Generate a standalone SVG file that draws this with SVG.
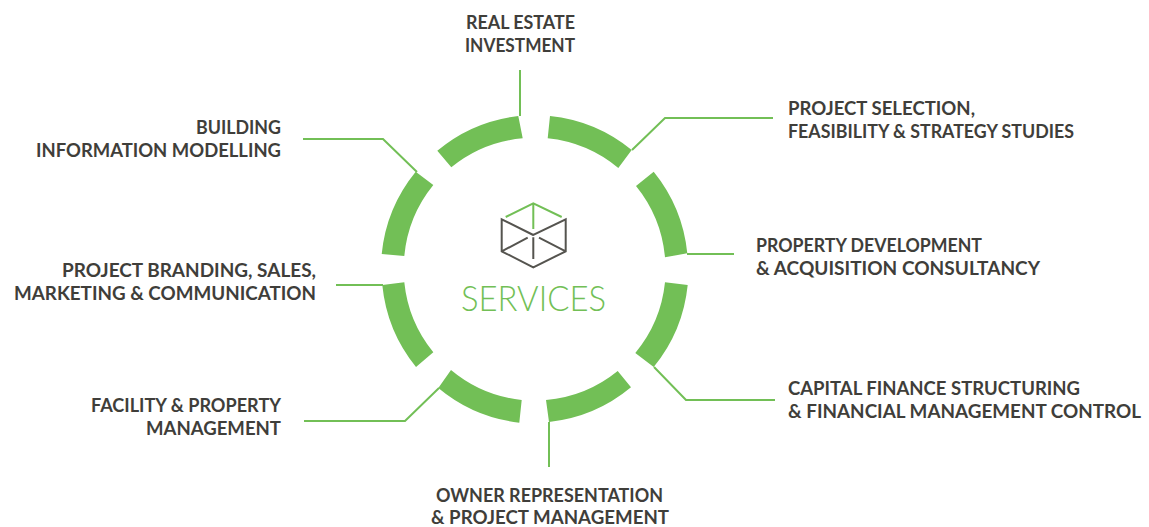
<svg xmlns="http://www.w3.org/2000/svg" width="1149" height="527" viewBox="0 0 1149 527">
<style>
.seg{fill:#72bf56}
.con{fill:none;stroke:#72bf56;stroke-width:2}
.lab{font-family:"Lato","Liberation Sans",sans-serif;font-weight:700;font-size:19px;fill:#3f3e3a}
.g{fill:none;stroke:#72bf56;stroke-width:2}
.d{fill:none;stroke:#55544f;stroke-width:2}
.title{font-family:"Lato","Liberation Sans",sans-serif;font-weight:300;font-size:36px;fill:#72bf56}
</style>
<rect width="1149" height="527" fill="#fff"/>
<g id="connectors">
<path class="con" d="M520 70V116"/>
<path class="con" d="M632 150L665 118H773"/>
<path class="con" d="M687 254H734"/>
<path class="con" d="M654 367L686 400H775"/>
<path class="con" d="M549 422V467"/>
<path class="con" d="M439 388L405 421H304"/>
<path class="con" d="M383 285H336"/>
<path class="con" d="M417 172L383 139H303"/>
</g>
<g id="ring">
<path class="seg" d="M518.3 116A154 154 0 0 0 437.3 150.7L451.3 167.3A132 132 0 0 1 522.7 138.3Z"/>
<path class="seg" d="M550 116A154 154 0 0 1 631.7 150L618.3 168A132 132 0 0 0 547.7 138.3Z"/>
<path class="seg" d="M653.7 171.7A154 154 0 0 1 687.3 253.3L665 257.3A132 132 0 0 0 636 186Z"/>
<path class="seg" d="M687.7 285A154 154 0 0 1 653.7 367L635.3 353A132 132 0 0 0 665 282.3Z"/>
<path class="seg" d="M631 387.3A154 154 0 0 1 549 422L546 400A132 132 0 0 0 617.7 371Z"/>
<path class="seg" d="M519.3 422.7A154 154 0 0 1 438.3 388L451 370A132 132 0 0 0 521.7 400Z"/>
<path class="seg" d="M416 367A154 154 0 0 1 382.3 285L404.3 282.3A132 132 0 0 0 433.3 352.3Z"/>
<path class="seg" d="M381.7 254A154 154 0 0 1 415.7 171.7L433.3 185A132 132 0 0 0 404.3 256Z"/>
</g>
<g id="center">
<path class="g" d="M505.7 217L533.3 203.3L561.7 217M533.3 203.3V229"/>
<path class="d" d="M533.3 235L501.7 219.3V251.3L533.3 267.3L565.7 251.3V219.3ZM501.7 251.3L527.7 237.7M565.7 251.3L539 237.7M533.3 237.3V259"/>
<text class="title" x="461" y="310.5" textLength="145" lengthAdjust="spacingAndGlyphs">SERVICES</text>
</g>
<g id="n1"><text class="lab" x="466" y="29" textLength="109" lengthAdjust="spacingAndGlyphs">REAL ESTATE</text><text class="lab" x="465" y="52" textLength="110" lengthAdjust="spacingAndGlyphs">INVESTMENT</text></g>
<g id="n2"><text class="lab" x="788" y="115" textLength="187" lengthAdjust="spacingAndGlyphs">PROJECT SELECTION,</text><text class="lab" x="788" y="138" textLength="286" lengthAdjust="spacingAndGlyphs">FEASIBILITY &amp; STRATEGY STUDIES</text></g>
<g id="n3"><text class="lab" x="756" y="252" textLength="226" lengthAdjust="spacingAndGlyphs">PROPERTY DEVELOPMENT</text><text class="lab" x="756" y="275" textLength="284" lengthAdjust="spacingAndGlyphs">&amp; ACQUISITION CONSULTANCY</text></g>
<g id="n4"><text class="lab" x="788" y="395" textLength="292" lengthAdjust="spacingAndGlyphs">CAPITAL FINANCE STRUCTURING</text><text class="lab" x="788" y="418" textLength="353" lengthAdjust="spacingAndGlyphs">&amp; FINANCIAL MANAGEMENT CONTROL</text></g>
<g id="n5"><text class="lab" x="436" y="502" textLength="227" lengthAdjust="spacingAndGlyphs">OWNER REPRESENTATION</text><text class="lab" x="431" y="524" textLength="238" lengthAdjust="spacingAndGlyphs">&amp; PROJECT MANAGEMENT</text></g>
<g id="n6"><text class="lab" x="91" y="412" textLength="190" lengthAdjust="spacingAndGlyphs">FACILITY &amp; PROPERTY</text><text class="lab" x="146" y="435" textLength="135" lengthAdjust="spacingAndGlyphs">MANAGEMENT</text></g>
<g id="n7"><text class="lab" x="62" y="277" textLength="254" lengthAdjust="spacingAndGlyphs">PROJECT BRANDING, SALES,</text><text class="lab" x="14" y="300" textLength="302" lengthAdjust="spacingAndGlyphs">MARKETING &amp; COMMUNICATION</text></g>
<g id="n8"><text class="lab" x="196" y="134" textLength="85" lengthAdjust="spacingAndGlyphs">BUILDING</text><text class="lab" x="36" y="157" textLength="245" lengthAdjust="spacingAndGlyphs">INFORMATION MODELLING</text></g>
</svg>
